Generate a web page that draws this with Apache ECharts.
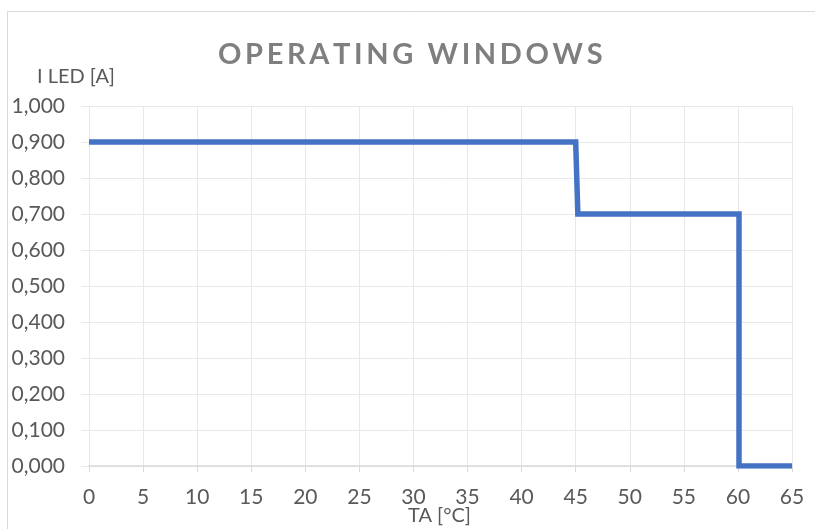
<!DOCTYPE html>
<html>
<head>
<meta charset="utf-8">
<script src="https://cdn.jsdelivr.net/npm/echarts@6/dist/echarts.min.js"></script>
<style>html,body{margin:0;padding:0;background:#fff}#c{width:815px;height:529px}</style>
</head>
<body>
<div id="c"></div>
<script>
const titleText = 'OPERATING WINDOWS';
const xName = 'TA [°C]';
const yName = 'I LED [A]';
const taValues = [0, 45, 45.2, 60.1, 60.1, 65];
const iLedValues = [0.9, 0.9, 0.7, 0.7, 0.0, 0.0];
const xTicks = {min: 0, max: 65, interval: 5};
const yTicks = {min: 0, max: 1, interval: 0.1};

const spaced = titleText.split('').join('\u2009');
const chart = echarts.init(document.getElementById('c'));
const font = 'Lato, "Open Sans", sans-serif';
chart.setOption({
  animation: false,
  textStyle: {fontFamily: font},
  graphic: [
    {type: 'rect', shape: {x: 7.5, y: 11.5, width: 1000, height: 1000}, style: {fill: 'none', stroke: '#d9d9d9', lineWidth: 1}, silent: true},
    {type: 'text', left: 218, top: 40, style: {text: spaced, fill: '#7f7f7f', font: 'bold 29px ' + font}},
    {type: 'text', left: 37, top: 67, style: {text: yName, fill: '#595959', font: '20px ' + font}},
    {type: 'text', left: 408, top: 506, style: {text: xName, fill: '#595959', font: '20px ' + font}}
  ],
  grid: {left: 89, right: 23, top: 106, bottom: 63, containLabel: false},
  xAxis: {
    type: 'value', min: xTicks.min, max: xTicks.max, interval: xTicks.interval,
    axisLine: {show: true, onZero: false, lineStyle: {color: '#d9d9d9', width: 1.5}},
    axisTick: {show: true, length: 6, lineStyle: {color: '#d9d9d9'}},
    axisLabel: {color: '#595959', fontSize: 21, margin: 21},
    splitLine: {show: true, lineStyle: {color: '#e8e8e8', width: 1}}
  },
  yAxis: {
    type: 'value', min: yTicks.min, max: yTicks.max, interval: yTicks.interval,
    axisLine: {show: false},
    axisTick: {show: true, length: 8, lineStyle: {color: '#e8e8e8'}},
    axisLabel: {color: '#595959', fontSize: 21, margin: 24, formatter: v => v.toFixed(3).replace('.', ',')},
    splitLine: {show: true, lineStyle: {color: '#e8e8e8', width: 1}}
  },
  series: [{
    type: 'line', data: taValues.map((x, i) => [x, iLedValues[i]]),
    showSymbol: false, symbol: 'none',
    lineStyle: {color: '#4472c4', width: 5.5, join: 'miter'}
  }]
});
</script>
</body>
</html>
